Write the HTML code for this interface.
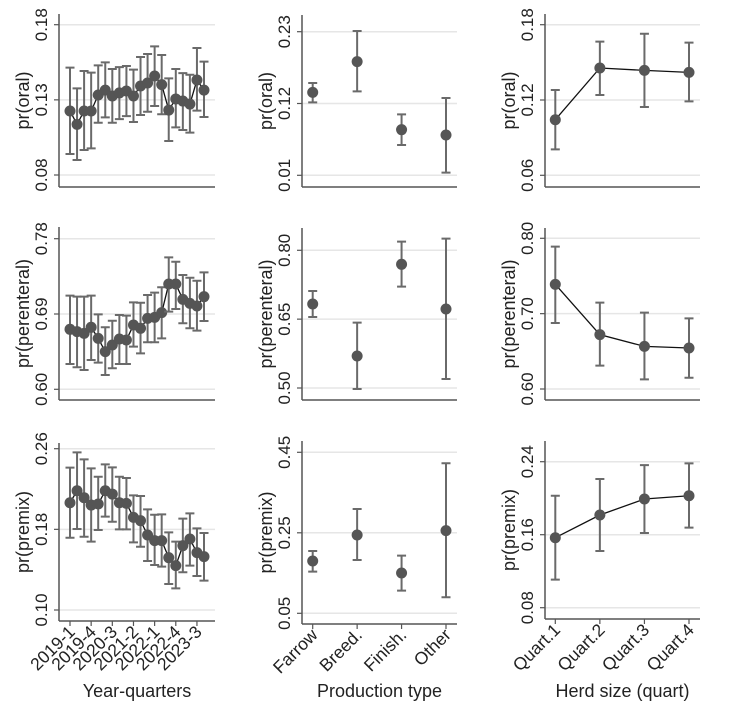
<!DOCTYPE html>
<html><head><meta charset="utf-8"><style>
body{margin:0;background:#fff;font-family:"Liberation Sans",Arial,sans-serif;}
svg text{font-family:"Liberation Sans",Arial,sans-serif;fill:#222;}
</style></head><body>
<svg id="c" width="734" height="712" viewBox="0 0 734 712"></svg>
<script>
const quarterTicks = ["2019-1","2019-4","2020-3","2021-2","2022-1","2022-4","2023-3"];
const prodCats = ["Farrow","Breed.","Finish.","Other"];
const herdCats = ["Quart.1","Quart.2","Quart.3","Quart.4"];

const oralQ = [0.1226,0.1137,0.1226,0.1226,0.1332,0.1365,0.1326,0.1346,0.1359,0.1326,0.1392,0.1412,0.1459,0.1401,0.1232,0.1306,0.1292,0.1272,0.1432,0.1365];
const oralQlo = [0.0940,0.0900,0.0966,0.0977,0.1148,0.1183,0.1148,0.1172,0.1192,0.1153,0.1199,0.1221,0.1259,0.1204,0.1026,0.1117,0.1099,0.1082,0.1228,0.1186];
const oralQhi = [0.1514,0.1376,0.1492,0.1481,0.1529,0.1549,0.1505,0.1518,0.1525,0.1501,0.1585,0.1605,0.1656,0.1598,0.1443,0.1505,0.1478,0.1467,0.1645,0.1554];
const parQ = [0.6717,0.6689,0.6669,0.6741,0.6609,0.6450,0.6530,0.6601,0.6589,0.6769,0.6729,0.6848,0.6860,0.6916,0.7258,0.7258,0.7075,0.7027,0.6996,0.7107];
const parQlo = [0.6303,0.6263,0.6231,0.6350,0.6319,0.6171,0.6251,0.6303,0.6303,0.6510,0.6430,0.6562,0.6562,0.6609,0.6928,0.6960,0.6789,0.6729,0.6701,0.6816];
const parQhi = [0.7119,0.7107,0.7107,0.7119,0.6896,0.6741,0.6820,0.6888,0.6880,0.7039,0.7035,0.7127,0.7155,0.7219,0.7577,0.7525,0.7366,0.7334,0.7298,0.7398];
const preQ = [0.2064,0.2183,0.2114,0.2041,0.2051,0.2183,0.2150,0.2064,0.2058,0.1919,0.1886,0.1744,0.1688,0.1688,0.1519,0.1440,0.1638,0.1704,0.1569,0.1529];
const preQlo = [0.1717,0.1803,0.1727,0.1678,0.1793,0.1926,0.1876,0.1800,0.1800,0.1671,0.1628,0.1486,0.1446,0.1430,0.1258,0.1215,0.1374,0.1440,0.1337,0.1291];
const preQhi = [0.2412,0.2564,0.2494,0.2405,0.2322,0.2445,0.2415,0.2322,0.2309,0.2137,0.2131,0.1998,0.1945,0.1949,0.1770,0.1678,0.1906,0.1959,0.1810,0.1764];

const oralP = [0.1371,0.1841,0.0799,0.0718];
const oralPlo = [0.1218,0.1386,0.0565,0.0141];
const oralPhi = [0.1514,0.2310,0.1034,0.1284];
const parP = [0.6831,0.5697,0.7695,0.6722];
const parPlo = [0.6547,0.4978,0.7208,0.5196];
const parPhi = [0.7114,0.6424,0.8189,0.8254];
const preP = [0.180,0.2446,0.1502,0.2554];
const prePlo = [0.1535,0.1825,0.1063,0.0898];
const prePhi = [0.2049,0.3092,0.1933,0.4227];

const oralH = [0.1043,0.1455,0.1436,0.1420];
const oralHlo = [0.0807,0.1240,0.1144,0.1189];
const oralHhi = [0.1280,0.1665,0.1728,0.1657];
const parH = [0.7389,0.6721,0.6566,0.6544];
const parHlo = [0.6876,0.6310,0.6128,0.6150];
const parHhi = [0.7889,0.7146,0.7013,0.6938];
const preH = [0.1567,0.1816,0.1991,0.2027];
const preHlo = [0.1107,0.1421,0.1618,0.1677];
const preHhi = [0.2027,0.2210,0.2363,0.2382];

const ytOralQ=["0.08","0.13","0.18"], ytParQ=["0.60","0.69","0.78"], ytPreQ=["0.10","0.18","0.26"];
const ytOralP=["0.01","0.12","0.23"], ytParP=["0.50","0.65","0.80"], ytPreP=["0.05","0.25","0.45"];
const ytOralH=["0.06","0.12","0.18"], ytParH=["0.60","0.70","0.80"], ytPreH=["0.08","0.16","0.24"];

const svg=document.getElementById('c');
const NS='http://www.w3.org/2000/svg';
function mk(tag,attrs,parent){const e=document.createElementNS(NS,tag);for(const k in attrs)e.setAttribute(k,attrs[k]);(parent||svg).appendChild(e);return e;}

function panel(name,ax,ticks,ytTop,ytBot,xFirst,xLast,vals,lo,hi,connect,xLabels,labelIdx,ytitle,xtitle){
  const g=mk('g',{});
  
  
  const tmin=parseFloat(ticks[0]), tmax=parseFloat(ticks[ticks.length-1]);
  const y=v=>ytBot+(v-tmin)/(tmax-tmin)*(ytTop-ytBot);
  const n=vals.length;
  const x=i=>xFirst+(n>1? i*(xLast-xFirst)/(n-1):0);
  ticks.forEach(t=>{
    const yy=y(parseFloat(t));
    const gl=mk('line',{x1:ax.x0,x2:ax.x1,y1:yy,y2:yy,stroke:'#e6e6e6','stroke-width':1.5},g);
    
    
    mk('line',{x1:ax.x0-5,x2:ax.x0,y1:yy,y2:yy,stroke:'#555','stroke-width':1.2},g);
    const tx=mk('text',{x:0,y:0,transform:`translate(${ax.x0-12},${yy}) rotate(-90)`,'text-anchor':'middle','font-size':17},g);
    tx.textContent=t;
    
    
  });
  mk('line',{x1:ax.x0,x2:ax.x0,y1:ax.top,y2:ax.bot,stroke:'#555','stroke-width':1.5},g);
  mk('line',{x1:ax.x0,x2:ax.x1,y1:ax.bot,y2:ax.bot,stroke:'#555','stroke-width':1.5},g);
  const yt=mk('text',{transform:`translate(${ax.x0-30},${(ax.top+ax.bot)/2}) rotate(-90)`,'text-anchor':'middle','font-size':18},g);
  yt.textContent=ytitle;
  
  
  if(connect){
    let d='';vals.forEach((v,i)=>{d+=(i?'L':'M')+x(i)+','+y(v);});
    const p=mk('path',{d:d,fill:'none',stroke:'#111','stroke-width':1.3},g);
    
    
  }
  vals.forEach((v,i)=>{
    const xi=x(i);
    const eb=mk('path',{d:`M${xi},${y(lo[i])}V${y(hi[i])}M${xi-4.5},${y(lo[i])}H${xi+4.5}M${xi-4.5},${y(hi[i])}H${xi+4.5}`,stroke:'#6a6a6a','stroke-width':2,fill:'none'},g);
    
    
    const c=mk('circle',{cx:xi,cy:y(v),r:5.5,fill:'#555'},g);
    
    
  });
  if(xLabels){
    xLabels.forEach((lab,k)=>{
      const xi=x(labelIdx[k]);
      mk('line',{x1:xi,x2:xi,y1:ax.bot,y2:ax.bot+5,stroke:'#555','stroke-width':1.2},g);
      const t=mk('text',{transform:`translate(${xi+6},${ax.bot+12}) rotate(-45)`,'text-anchor':'end','font-size':17.5},g);
      t.textContent=lab;
      
      
    });
    const xt=mk('text',{x:(ax.x0+ax.x1)/2,y:697,'text-anchor':'middle','font-size':18},g);
    xt.textContent=xtitle;
    
    
  }
}
const L={x0:59,x1:215}, M={x0:302,x1:457}, R={x0:545,x1:700};
const qi=[0,3,6,9,12,15,18], ci=[0,1,2,3];
panel('oral-by-quarter',{...L,top:14,bot:187},ytOralQ,24.7,175,70,204,oralQ,oralQlo,oralQhi,true,null,null,'pr(oral)');
panel('parenteral-by-quarter',{...L,top:227,bot:400},ytParQ,238.7,389.3,70,204,parQ,parQlo,parQhi,true,null,null,'pr(perenteral)');
panel('premix-by-quarter',{...L,top:443,bot:621},ytPreQ,448.7,610,70,204,preQ,preQlo,preQhi,true,quarterTicks,qi,'pr(premix)','Year-quarters');
panel('oral-by-production',{...M,top:15,bot:187},ytOralP,31.7,175.3,312.7,446,oralP,oralPlo,oralPhi,false,null,null,'pr(oral)');
panel('parenteral-by-production',{...M,top:228,bot:400},ytParP,250.3,388,312.7,446,parP,parPlo,parPhi,false,null,null,'pr(perenteral)');
panel('premix-by-production',{...M,top:441,bot:624},ytPreP,452.3,613.3,312.7,446,preP,prePlo,prePhi,false,prodCats,ci,'pr(premix)','Production type');
panel('oral-by-herd',{...R,top:14,bot:187},ytOralH,24.7,175.3,555.3,689,oralH,oralHlo,oralHhi,true,null,null,'pr(oral)');
panel('parenteral-by-herd',{...R,top:228,bot:400},ytParH,238.3,389,555.3,689,parH,parHlo,parHhi,true,null,null,'pr(perenteral)');
panel('premix-by-herd',{...R,top:441,bot:619},ytPreH,461.7,607.7,555.3,689,preH,preHlo,preHhi,true,herdCats,ci,'pr(premix)','Herd size (quart)');
</script>
</body></html>
